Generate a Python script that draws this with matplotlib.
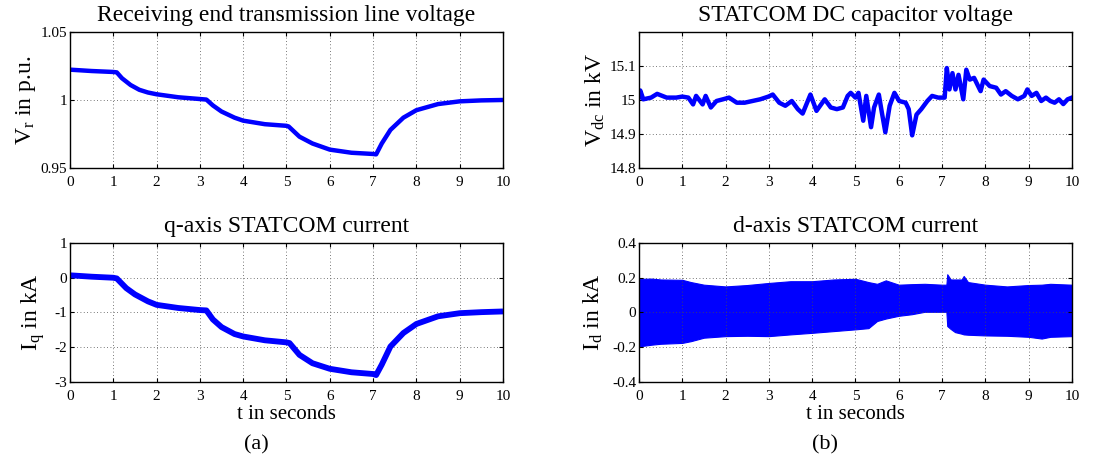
import matplotlib
matplotlib.use('Agg')
import matplotlib.pyplot as plt

plt.rcParams['font.family'] = ['Liberation Serif', 'DejaVu Serif']
plt.rcParams['mathtext.fontset'] = 'custom'
plt.rcParams['mathtext.rm'] = 'Liberation Serif'
plt.rcParams['mathtext.it'] = 'Liberation Serif'
plt.rcParams['axes.unicode_minus'] = False

# receiving end voltage (p.u.)
t_vr = [0, 0.5, 1.0, 1.08, 1.2, 1.4, 1.6, 1.8, 2.0, 2.5, 3.0, 3.15, 3.3, 3.5, 3.8, 4.0, 4.5, 5.0, 5.05,
        5.3, 5.6, 6.0, 6.5, 7.0, 7.07, 7.2, 7.4, 7.7, 8.0, 8.5, 9.0, 9.5, 10]
vr = [1.0223, 1.0213, 1.0206, 1.0203, 1.0160, 1.0110, 1.0075, 1.0055, 1.0042, 1.0020, 1.0007, 1.0003, 0.9960,
      0.9915, 0.9870, 0.9848, 0.9822, 0.9810, 0.9805, 0.9730, 0.9680, 0.9635, 0.9612, 0.9603, 0.9600,
      0.9680, 0.9780, 0.9870, 0.9925, 0.9970, 0.9990, 0.9997, 1.0000]

# q-axis current (kA)
t_iq = [0, 0.5, 1.0, 1.08, 1.3, 1.5, 1.8, 2.0, 2.5, 3.0, 3.15, 3.3, 3.5, 3.8, 4.0, 4.5, 5.0, 5.07,
        5.3, 5.6, 6.0, 6.5, 7.0, 7.07, 7.2, 7.4, 7.7, 8.0, 8.5, 9.0, 9.5, 10]
iq = [0.07, 0.03, 0.0, -0.02, -0.30, -0.48, -0.68, -0.78, -0.87, -0.93, -0.94, -1.20, -1.42, -1.62, -1.69,
      -1.80, -1.86, -1.88, -2.22, -2.46, -2.62, -2.72, -2.77, -2.80, -2.50, -1.98, -1.59, -1.33, -1.11,
      -1.02, -0.99, -0.97]

# STATCOM dc voltage (kV)
t_vdc = [0, 0.03, 0.1, 0.28, 0.42, 0.64, 0.86, 1.0, 1.14, 1.25, 1.32, 1.47, 1.54, 1.66, 1.79, 1.94,
         2.08, 2.26, 2.44, 2.62, 2.8, 2.99, 3.09, 3.24, 3.38, 3.53, 3.67, 3.78, 3.96, 4.1, 4.29, 4.43,
         4.57, 4.71, 4.82, 4.89, 5.0, 5.07, 5.18, 5.25, 5.36, 5.43, 5.54, 5.61, 5.69, 5.79, 5.9, 6.01,
         6.16, 6.23, 6.31, 6.41, 6.52, 6.66, 6.77, 6.91, 7.06, 7.11, 7.17, 7.24, 7.31, 7.38, 7.49, 7.56,
         7.64, 7.74, 7.89, 7.96, 8.1, 8.25, 8.36, 8.47, 8.61, 8.75, 8.9, 8.97, 9.07, 9.18, 9.29, 9.4,
         9.5, 9.6, 9.7, 9.8, 9.9, 10]
vdc = [15.008, 15.028, 15.002, 15.007, 15.018, 15.007, 15.007, 15.010, 15.007, 14.987, 15.012, 14.987,
       15.012, 14.978, 14.997, 15.002, 15.007, 14.992, 14.992, 14.997, 15.002, 15.010, 15.016, 14.992,
       14.983, 14.997, 14.973, 14.960, 15.016, 14.968, 15.002, 14.978, 14.973, 14.978, 15.012, 15.021,
       15.007, 15.021, 14.939, 15.012, 14.920, 14.978, 15.016, 14.963, 14.905, 14.983, 15.021, 14.997,
       14.992, 14.973, 14.896, 14.957, 14.973, 14.997, 15.012, 15.007, 15.007, 15.094, 15.031, 15.079,
       15.031, 15.074, 15.002, 15.089, 15.060, 15.065, 15.026, 15.060, 15.041, 15.036, 15.016, 15.026,
       15.012, 15.002, 15.012, 15.031, 15.012, 15.021, 14.997, 15.007, 14.997, 14.992, 15.002, 14.988,
       15.002, 15.007]

# d-axis current envelope (kA)
t_id = [0, 0.3, 0.5, 1.0, 1.2, 1.5, 2.0, 2.5, 3.0, 3.5, 4.0, 4.5, 5.0, 5.3, 5.5, 5.7, 6.0, 6.3, 6.6,
        7.0, 7.1, 7.12, 7.2, 7.3, 7.45, 7.5, 7.6, 8.0, 8.5, 9.0, 9.3, 9.5, 10]
id_hi = [0.194, 0.195, 0.19, 0.188, 0.175, 0.16, 0.15, 0.158, 0.17, 0.18, 0.18, 0.19, 0.194, 0.175,
         0.165, 0.185, 0.16, 0.163, 0.165, 0.16, 0.16, 0.22, 0.19, 0.19, 0.19, 0.21, 0.175, 0.16, 0.15,
         0.158, 0.16, 0.165, 0.16]
id_lo = [-0.195, -0.185, -0.18, -0.175, -0.165, -0.145, -0.136, -0.134, -0.136, -0.126, -0.117, -0.107,
         -0.097, -0.09, -0.049, -0.035, -0.019, -0.01, 0.004, 0.004, 0.004, -0.078, -0.095, -0.113,
         -0.122, -0.126, -0.128, -0.132, -0.134, -0.14, -0.15, -0.14, -0.136]

blue = (0, 0, 1)
fig = plt.figure(figsize=(11.2, 4.67), dpi=100)

w = 0.3866
ax1 = fig.add_axes([0.0625, 0.6403, w, 0.2912])
ax2 = fig.add_axes([0.5705, 0.6403, w, 0.2912])
ax3 = fig.add_axes([0.0625, 0.182, w, 0.2977])
ax4 = fig.add_axes([0.5705, 0.182, w, 0.2977])

ax1.plot(t_vr, vr, color=blue, lw=3.2, solid_capstyle='butt')
ax1.set_ylim(0.95, 1.05)
ax1.set_yticks([0.95, 1.0, 1.05])
ax1.set_yticklabels(['0.95', '1', '1.05'])
ax1.set_title('Receiving end transmission line voltage', fontsize=17, pad=8)
ax1.set_ylabel(r'V$_{\mathrm{r}}$ in p.u.', fontsize=17)
ax1.yaxis.set_label_coords(-0.074, 0.5)

ax2.plot(t_vdc, vdc, color=blue, lw=3.2)
ax2.set_ylim(14.8, 15.2)
ax2.set_yticks([14.8, 14.9, 15.0, 15.1])
ax2.set_yticklabels(['14.8', '14.9', '15', '15.1'])
ax2.set_title('STATCOM DC capacitor voltage', fontsize=17, pad=8)
ax2.set_ylabel(r'V$_{\mathrm{dc}}$ in kV', fontsize=17)
ax2.yaxis.set_label_coords(-0.074, 0.5)

ax3.plot(t_iq, iq, color=blue, lw=4.2, solid_capstyle='butt')
ax3.set_ylim(-3, 1)
ax3.set_yticks([-3, -2, -1, 0, 1])
ax3.set_title('q-axis STATCOM current', fontsize=17, pad=8)
ax3.set_ylabel(r'I$_{\mathrm{q}}$ in kA', fontsize=17)
ax3.yaxis.set_label_coords(-0.053, 0.5)

ax4.fill_between(t_id, id_lo, id_hi, color=blue, lw=0.8, edgecolor=blue)
ax4.set_ylim(-0.4, 0.4)
ax4.set_yticks([-0.4, -0.2, 0, 0.2, 0.4])
ax4.set_yticklabels(['-0.4', '-0.2', '0', '0.2', '0.4'])
ax4.set_title('d-axis STATCOM current', fontsize=17, pad=8)
ax4.set_ylabel(r'I$_{\mathrm{d}}$ in kA', fontsize=17)
ax4.yaxis.set_label_coords(-0.078, 0.5)

for ax in (ax3, ax4):
    ax.set_xlabel('t in seconds', fontsize=15, labelpad=1)

for ax in (ax1, ax2, ax3, ax4):
    ax.set_xlim(0, 10)
    ax.set_xticks(range(0, 11))
    ax.grid(True, linestyle=(0, (1, 3)), color='0.3', lw=0.6)
    ax.tick_params(direction='in', top=True, right=True, labelsize=11, length=3)
    ax.tick_params(axis='x', pad=6)
    ax.tick_params(axis='y', pad=2)
    for s in ax.spines.values():
        s.set_linewidth(1.0)

fig.text(0.2286, 0.047, '(a)', ha='center', va='center', fontsize=16)
fig.text(0.7366, 0.047, '(b)', ha='center', va='center', fontsize=16)

fig.savefig('out.png', dpi=100)
